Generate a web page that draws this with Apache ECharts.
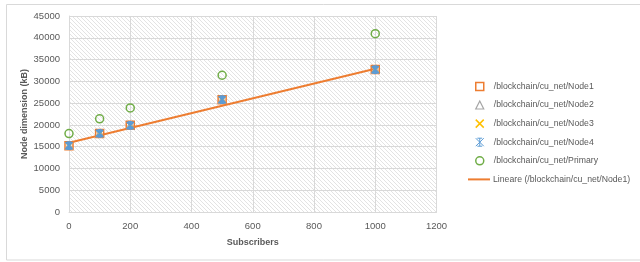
<!DOCTYPE html>
<html><head><meta charset="utf-8">
<script src="https://cdn.jsdelivr.net/npm/echarts@6/dist/echarts.min.js"></script>
<style>html,body{margin:0;padding:0;background:#fff}#c{width:640px;height:262px}</style>
</head><body><div id="c"></div>
<script>
const subscribers = [0, 100, 200, 500, 1000];
const node1 = [15230, 18050, 19900, 25800, 32700];
const node2 = [15230, 18050, 19900, 25800, 32700];
const node3 = [15230, 18050, 19900, 25800, 32700];
const node4 = [15230, 18050, 19900, 25800, 32700];
const primary = [18000, 21400, 23900, 31400, 40950];
// linear trendline of Node1, end values
const trendX = [0, 1000];
const trendY = [15900, 32900];
const xTicks = [0, 200, 400, 600, 800, 1000, 1200];
const yTicks = [0, 5000, 10000, 15000, 20000, 25000, 30000, 35000, 40000, 45000];
const names = ['/blockchain/cu_net/Node1','/blockchain/cu_net/Node2','/blockchain/cu_net/Node3','/blockchain/cu_net/Node4','/blockchain/cu_net/Primary','Lineare (/blockchain/cu_net/Node1)'];

const zip = (xs, ys) => xs.map((x,i)=>[x, ys[i]]);

const cv = document.createElement('canvas'); cv.width=4; cv.height=4;
const cx = cv.getContext('2d'); cx.fillStyle='#ffffff'; cx.fillRect(0,0,4,4);
cx.strokeStyle='#e3e3e3'; cx.lineWidth=1;
cx.beginPath(); cx.moveTo(-1,-1); cx.lineTo(5,5); cx.moveTo(-1,3); cx.lineTo(1,5); cx.moveTo(3,-1); cx.lineTo(5,1); cx.stroke();

const FONT = 'Liberation Sans';
const LBL = '#595959';
const xPath = 'path://M0,0L10,10M10,0L0,10';
const starPath = 'path://M0,0L10,10M10,0L0,10M5,0L5,10M2,0L8,0M2,10L8,10';
const axisFmt = v => String(v);

const chart = echarts.init(document.getElementById('c'), null, {renderer:'canvas'});
chart.setOption({
  animation:false,
  textStyle:{fontFamily:FONT},
  graphic:[{type:'rect', shape:{x:6.5,y:4.5,width:640,height:255.5}, style:{fill:'none', stroke:'#d9d9d9', lineWidth:1}, silent:true, z:-10}],
  grid:{left:69, right:203.5, top:16, bottom:50, show:true, backgroundColor:{image:cv, repeat:'repeat'}, borderWidth:0},
  xAxis:{type:'value', min:xTicks[0], max:xTicks[xTicks.length-1], interval:xTicks[1]-xTicks[0],
    name:'Subscribers', nameLocation:'middle', nameGap:26, nameMoveOverlap:false,
    nameTextStyle:{fontFamily:FONT, fontSize:9, fontWeight:'bold', color:LBL},
    axisLine:{show:true, lineStyle:{color:'#d9d9d9'}}, axisTick:{show:false},
    axisLabel:{color:LBL, fontSize:9.5, margin:9, fontFamily:FONT, formatter:axisFmt},
    splitLine:{show:true, lineStyle:{color:'#d9d9d9', width:1}}},
  yAxis:{type:'value', min:yTicks[0], max:yTicks[yTicks.length-1], interval:yTicks[1]-yTicks[0],
    name:'Node dimension (kB)', nameLocation:'middle', nameGap:40, nameRotate:90, nameMoveOverlap:false,
    nameTextStyle:{fontFamily:FONT, fontSize:9, fontWeight:'bold', color:LBL},
    axisLine:{show:true, lineStyle:{color:'#d9d9d9'}}, axisTick:{show:false},
    axisLabel:{color:LBL, fontSize:9.5, margin:9, fontFamily:FONT, formatter:axisFmt},
    splitLine:{show:true, lineStyle:{color:'#d9d9d9', width:1}}},
  legend:[
    {orient:'vertical', left:470, top:76.4, itemWidth:8, itemHeight:8, itemGap:8.6,
      textStyle:{color:LBL, fontSize:8.7, lineHeight:10, fontFamily:FONT, padding:[0,0,0,5]},
      data:[
        {name:names[0], icon:'rect', itemStyle:{color:'rgba(0,0,0,0)', borderColor:'#ED7D31', borderWidth:1.5}},
        {name:names[1], icon:'triangle', itemStyle:{color:'rgba(0,0,0,0)', borderColor:'#A5A5A5', borderWidth:1.2}},
        {name:names[2], icon:xPath, itemStyle:{color:'rgba(0,0,0,0)', borderColor:'#FFC000', borderWidth:1.5}},
        {name:names[3], icon:starPath, itemStyle:{color:'#5B9BD5', borderColor:'#5B9BD5', borderWidth:1}},
        {name:names[4], icon:'circle', itemStyle:{color:'rgba(0,0,0,0)', borderColor:'#70AD47', borderWidth:1.5}}
      ]},
    {orient:'vertical', left:463, top:169.4, itemWidth:22, itemHeight:2,
      textStyle:{color:LBL, fontSize:8.7, lineHeight:10, fontFamily:FONT, padding:[0,0,0,-2]},
      data:[{name:names[5], icon:'rect', itemStyle:{color:'#ED7D31', borderWidth:0}}]}
  ],
  series:[
    {name:names[0], type:'scatter', data:zip(subscribers,node1), symbol:'rect', symbolSize:8, z:3,
      itemStyle:{color:'rgba(0,0,0,0)', borderColor:'#ED7D31', borderWidth:1.5, opacity:1}},
    {name:names[1], type:'scatter', data:zip(subscribers,node2), symbol:'triangle', symbolSize:7, z:4,
      itemStyle:{color:'rgba(0,0,0,0)', borderColor:'#A5A5A5', borderWidth:1.2, opacity:1}},
    {name:names[2], type:'scatter', data:zip(subscribers,node3), symbol:xPath, symbolSize:6, z:5,
      itemStyle:{color:'rgba(0,0,0,0)', borderColor:'#FFC000', borderWidth:1.5, opacity:1}},
    {name:names[3], type:'scatter', data:zip(subscribers,node4), symbol:starPath, symbolSize:7, z:6,
      itemStyle:{color:'rgba(0,0,0,0)', borderColor:'#5B9BD5', borderWidth:1.8, opacity:1}},
    {name:names[4], type:'scatter', data:zip(subscribers,primary), symbol:'circle', symbolSize:8, z:3,
      itemStyle:{color:'rgba(0,0,0,0)', borderColor:'#70AD47', borderWidth:1.5, opacity:1}},
    {name:names[5], type:'line', data:zip(trendX,trendY), symbol:'none', z:2, color:'#ED7D31',
      lineStyle:{color:'#ED7D31', width:2}}
  ]
});
</script></body></html>
